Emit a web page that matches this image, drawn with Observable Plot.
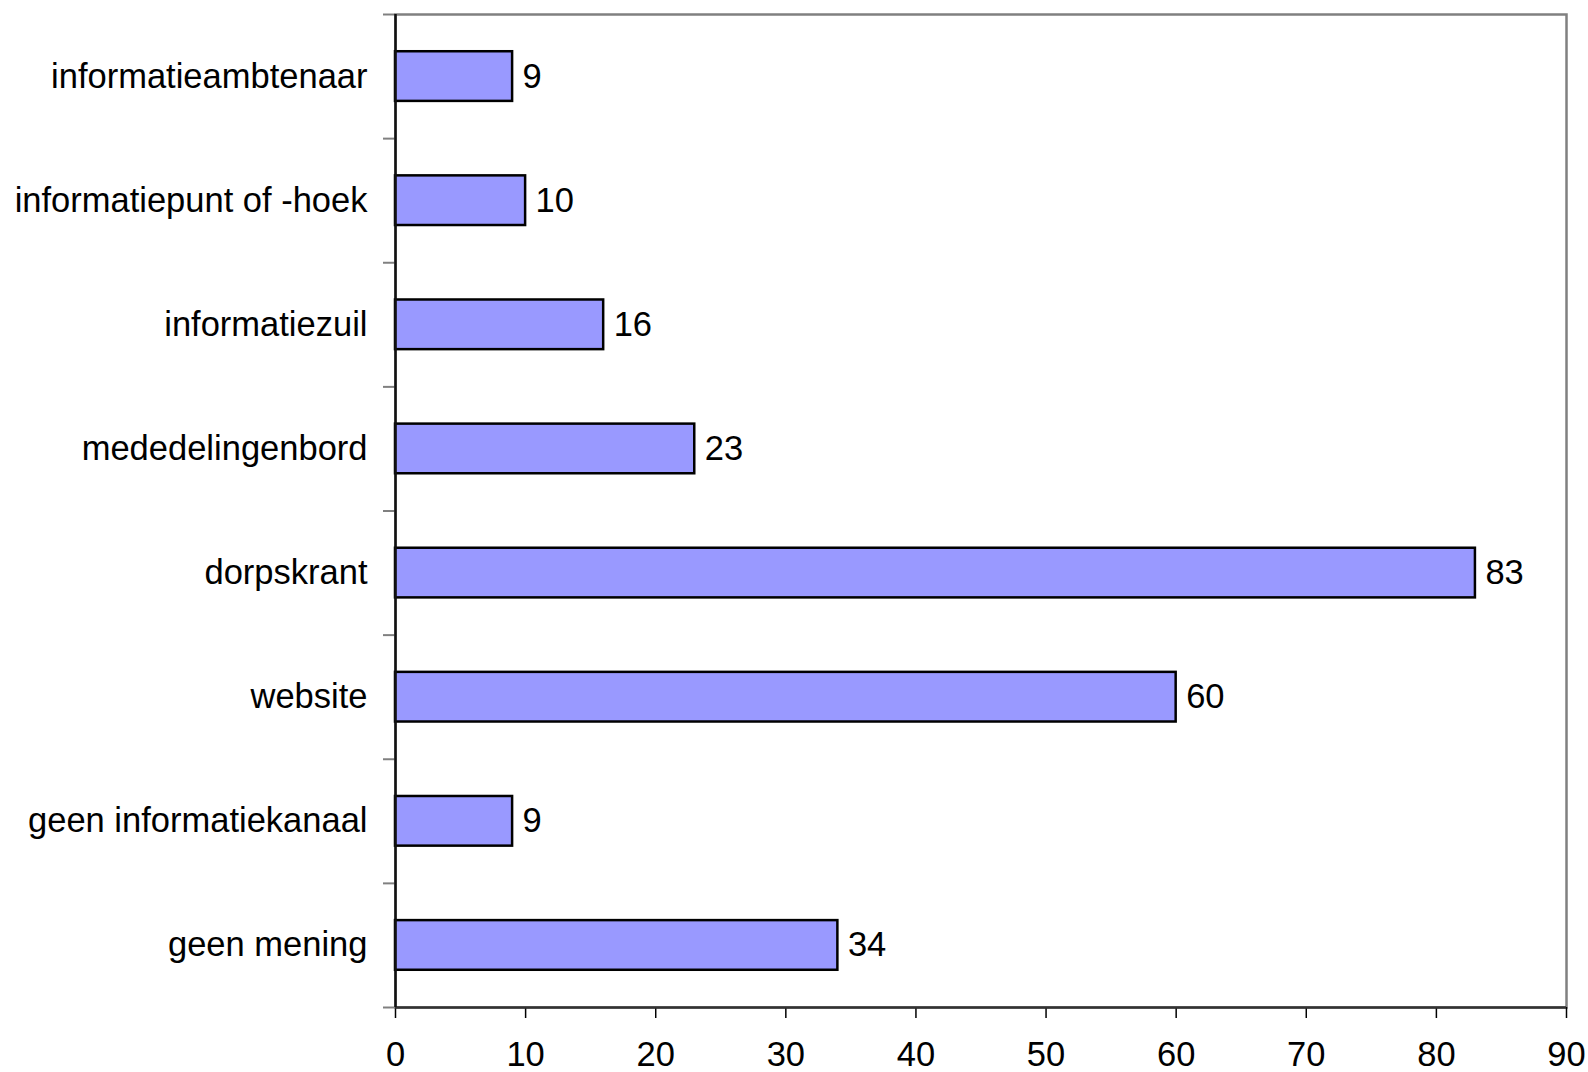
<!DOCTYPE html>
<html><head><meta charset="utf-8">
<script src="https://cdn.jsdelivr.net/npm/d3@7"></script>
<script src="https://cdn.jsdelivr.net/npm/@observablehq/plot@0.6"></script>
<style>html,body{margin:0;padding:0;background:#fff;} svg{display:block}</style>
</head><body><div id="chart"></div>
<script>
const categories = [
  "informatieambtenaar",
  "informatiepunt of -hoek",
  "informatiezuil",
  "mededelingenbord",
  "dorpskrant",
  "website",
  "geen informatiekanaal",
  "geen mening"
];
const values = [9, 10, 16, 23, 83, 60, 9, 34];
const xTicks = [0, 10, 20, 30, 40, 50, 60, 70, 80, 90];

const data = categories.map((c, i) => ({category: c, value: values[i]}));

const W = 1588, H = 1072, mt = 14, mb = 65, ml = 395, mr = 22;
const step = (H - mt - mb) / categories.length;
const fs = 34.5;

const chart = Plot.plot({
  width: W, height: H,
  marginTop: mt, marginBottom: mb, marginLeft: ml, marginRight: mr,
  style: {fontFamily: "Arial, 'Liberation Sans', sans-serif", fontSize: fs + "px", color: "#000", background: "#fff"},
  x: {domain: [0, 90], label: null, axis: null},
  y: {domain: categories, paddingInner: 0.6, paddingOuter: 0.3, round: false, label: null, axis: null},
  marks: [
    Plot.frame({stroke: "#808080", strokeWidth: 2.5}),
    Plot.barX(data, {x: "value", y: "category", fill: "#9999FF", stroke: "#000", strokeWidth: 2.5}),
    Plot.text(data, {x: "value", y: "category", text: d => String(d.value), dx: 10, textAnchor: "start", fill: "#000", fontSize: fs}),
    Plot.axisX({ticks: xTicks, tickSize: 11, tickPadding: 23, stroke: "#000", strokeWidth: 1.5, fill: "#000", label: null, fontSize: fs}),
    Plot.axisY({tickSize: 0, tickPadding: 28, label: null, fill: "#000", fontSize: fs}),
    Plot.axisY(categories, {tickSize: 12, text: null, label: null, stroke: "#808080", strokeWidth: 2, dy: -step / 2}),
    Plot.axisY([categories[categories.length - 1]], {tickSize: 12, text: null, label: null, stroke: "#808080", strokeWidth: 2, dy: step / 2}),
    Plot.ruleY([categories[categories.length - 1]], {dy: step / 2, stroke: "#333", strokeWidth: 2.5}),
    Plot.ruleX([0], {stroke: "#111", strokeWidth: 2.5})
  ]
});
document.getElementById("chart").append(chart);
</script>
</body></html>
